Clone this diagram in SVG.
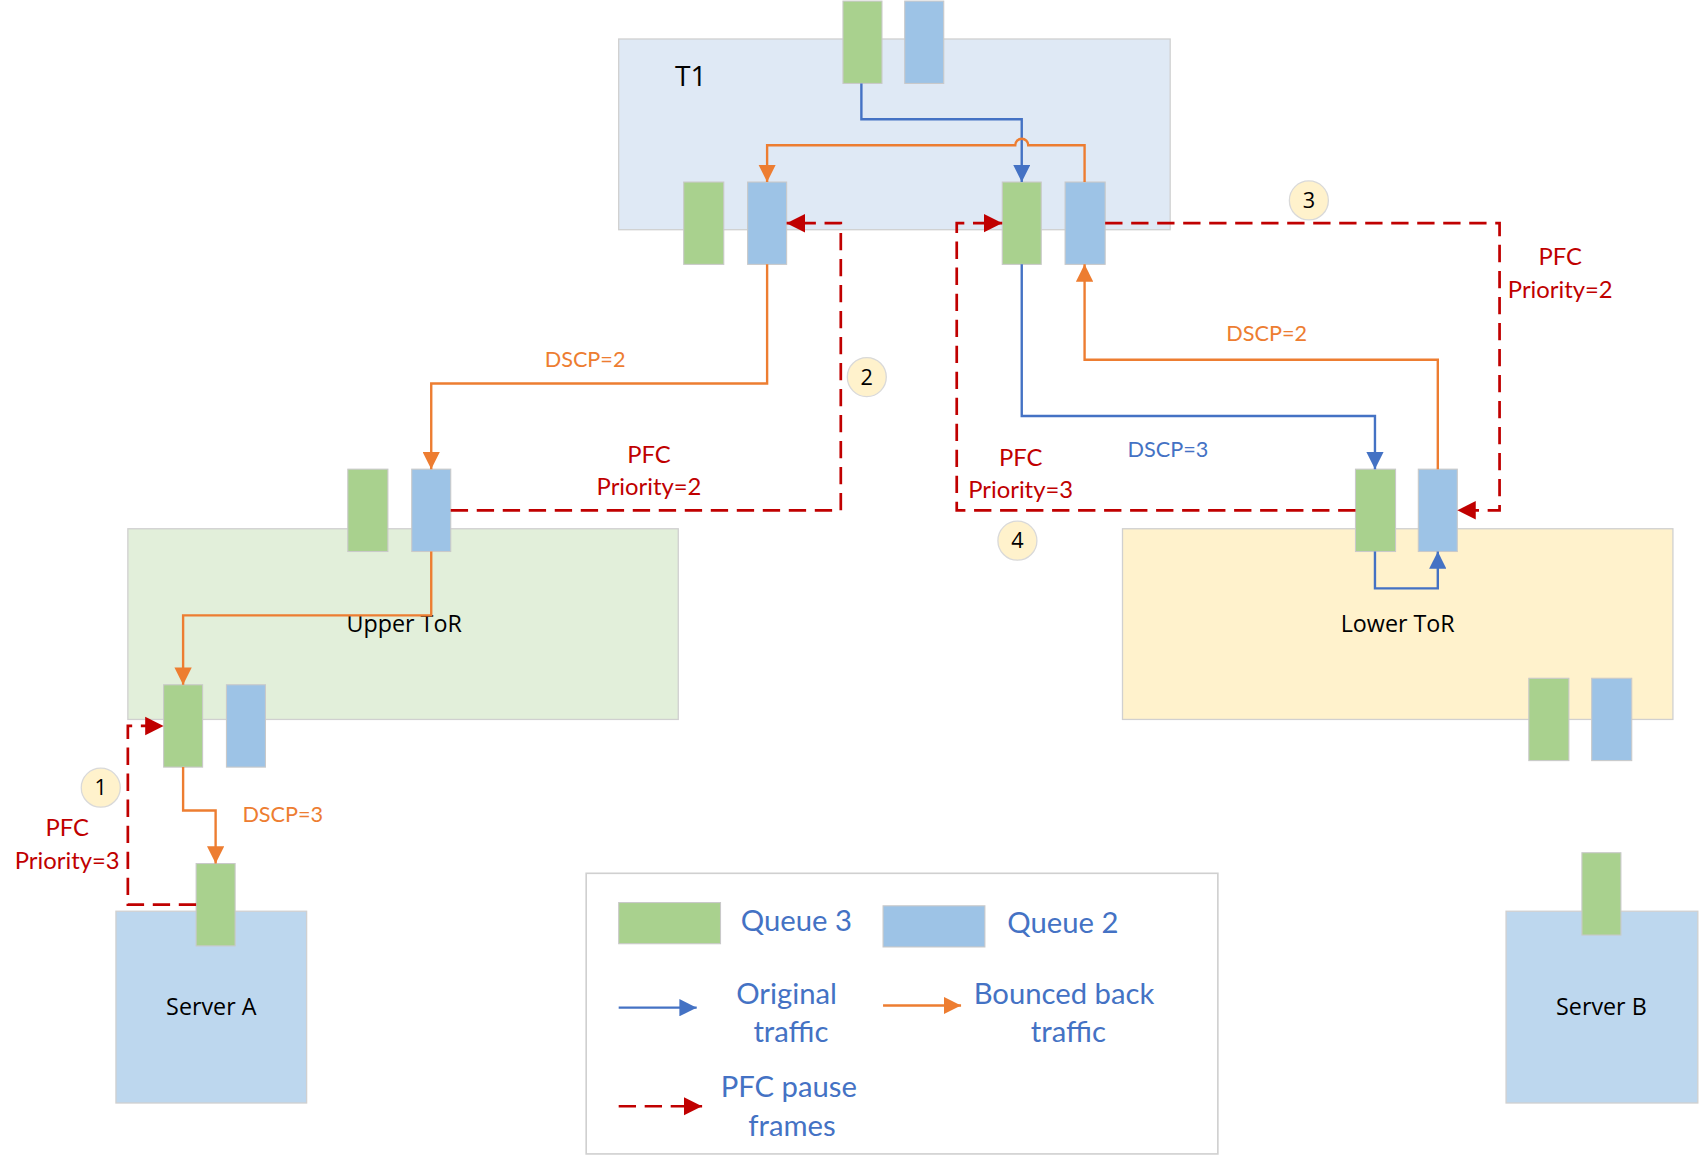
<svg xmlns="http://www.w3.org/2000/svg" width="1699" height="1161" viewBox="0 0 1699 1161">
<style>
.box{stroke:#d0d0d0;stroke-width:1.2}
.q3{fill:#a9d18e;stroke:#c9c9c9;stroke-width:1}
.q2{fill:#9dc3e6;stroke:#c9c9c9;stroke-width:1}
.nl{font-family:"Open Sans","Noto Sans",sans-serif;font-size:21.5px;fill:#000;text-anchor:middle}
.lbl{font-family:Lato,"Liberation Sans",sans-serif;font-size:20px;text-anchor:middle}
.big{font-size:22px}
.red{fill:#c00000}
.org{fill:#ed7d31}
.blu{fill:#4472c4}
.leg{font-family:Lato,"Liberation Sans",sans-serif;font-size:27px;fill:#4472c4;text-anchor:middle}
.cl{fill:#fff2cc;stroke:#d9d9d9;stroke-width:1.2}
.cn{font-family:"Open Sans","Noto Sans",sans-serif;font-size:20px;fill:#000;text-anchor:middle}
.lb{fill:none;stroke:#4472c4;stroke-width:2.2;marker-end:url(#ab)}
.lo{fill:none;stroke:#ed7d31;stroke-width:2.2;marker-end:url(#ao)}
.lr{fill:none;stroke:#c00000;stroke-width:2.5;stroke-dasharray:16 8;marker-end:url(#ar)}
</style>
<defs>
<marker id="ab" viewBox="0 0 10 10" refX="10" refY="5" markerUnits="userSpaceOnUse" markerWidth="16" markerHeight="16" orient="auto"><path d="M0,0L10,5L0,10z" fill="#4472c4"/></marker>
<marker id="ao" viewBox="0 0 10 10" refX="10" refY="5" markerUnits="userSpaceOnUse" markerWidth="16" markerHeight="16" orient="auto"><path d="M0,0L10,5L0,10z" fill="#ed7d31"/></marker>
<marker id="ar" viewBox="0 0 10 10" refX="10" refY="5" markerUnits="userSpaceOnUse" markerWidth="17" markerHeight="19" orient="auto"><path d="M0,0L10,5L0,10z" fill="#c00000"/></marker>
</defs>
<rect width="1699" height="1161" fill="#fff"/>
<g transform="scale(1.0835)">
<g id="t1">
<rect class="box" x="571" y="36" width="509" height="176" fill="#dfe9f5"/>
<text x="623" y="79" font-family="'Open Sans','Noto Sans',sans-serif" font-size="26" fill="#000">T1</text>
<rect class="q3" x="778" y="1" width="36" height="76"/>
<rect class="q2" x="835" y="1" width="36" height="76"/>
<rect class="q3" x="631" y="168" width="37" height="76"/>
<rect class="q2" x="690" y="168" width="36" height="76"/>
<rect class="q3" x="925" y="168" width="36" height="76"/>
<rect class="q2" x="983" y="168" width="37" height="76"/>
</g>
<g id="upper-tor">
<rect class="box" x="118" y="488" width="508" height="176" fill="#e2efda"/>
<text class="nl" x="373" y="583">Upper ToR</text>
<rect class="q3" x="321" y="433" width="37" height="76"/>
<rect class="q2" x="380" y="433" width="36" height="76"/>
<rect class="q3" x="151" y="632" width="36" height="76"/>
<rect class="q2" x="209" y="632" width="36" height="76"/>
</g>
<g id="lower-tor">
<rect class="box" x="1036" y="488" width="508" height="176" fill="#fff2cc"/>
<text class="nl" x="1290" y="583">Lower ToR</text>
<rect class="q3" x="1251" y="433" width="37" height="76"/>
<rect class="q2" x="1309" y="433" width="36" height="76"/>
<rect class="q3" x="1411" y="626" width="37" height="76"/>
<rect class="q2" x="1469" y="626" width="37" height="76"/>
</g>
<g id="server-a">
<rect class="box" x="107" y="841" width="176" height="177" fill="#bdd7ee"/>
<text class="nl" x="195" y="937">Server A</text>
<rect class="q3" x="181" y="797" width="36" height="76"/>
</g>
<g id="server-b">
<rect class="box" x="1390" y="841" width="177" height="177" fill="#bdd7ee"/>
<text class="nl" x="1478" y="937">Server B</text>
<rect class="q3" x="1460" y="787" width="36" height="76"/>
</g>
<g id="connectors">
<path class="lb" d="M795,77V110H943V168"/>
<path class="lo" d="M1001,168V134H949A6,6 0 0 0 937,134H708V168"/>
<path class="lr" d="M416,471H776V206H726"/>
<path class="lo" d="M708,244V354H398V433"/>
<path class="lo" d="M398,509V568H169V632"/>
<path class="lo" d="M169,708V748H199V797"/>
<path class="lr" d="M181,835H118V670H151"/>
<path class="lr" d="M1020,206H1384V471H1345"/>
<path class="lr" d="M1251,471H883V206H925"/>
<path class="lb" d="M943,244V384H1269V433"/>
<path class="lo" d="M1327,433V332H1001V244"/>
<path class="lb" d="M1269,509V543H1327V509"/>
</g>
<g id="labels">
<text class="lbl org" x="540" y="339">DSCP=2</text>
<text class="lbl big red" x="599" y="427">PFC</text>
<text class="lbl big red" x="599" y="457">Priority=2</text>
<text class="lbl org" x="261" y="759">DSCP=3</text>
<text class="lbl big red" x="62" y="772">PFC</text>
<text class="lbl big red" x="62" y="802">Priority=3</text>
<text class="lbl big red" x="1440" y="245">PFC</text>
<text class="lbl big red" x="1440" y="275">Priority=2</text>
<text class="lbl org" x="1169" y="315">DSCP=2</text>
<text class="lbl blu" x="1078" y="422">DSCP=3</text>
<text class="lbl big red" x="942" y="430">PFC</text>
<text class="lbl big red" x="942" y="460">Priority=3</text>
</g>
<g id="step-1"><circle class="cl" cx="93" cy="727" r="18"/><text class="cn" x="93" y="734">1</text></g>
<g id="step-2"><circle class="cl" cx="800" cy="348" r="18"/><text class="cn" x="800" y="355">2</text></g>
<g id="step-3"><circle class="cl" cx="1208" cy="185" r="18"/><text class="cn" x="1208" y="192">3</text></g>
<g id="step-4"><circle class="cl" cx="939" cy="499" r="18"/><text class="cn" x="939" y="506">4</text></g>
<g id="legend">
<rect x="541" y="806" width="583" height="259" fill="#fff" stroke="#d0d0d0" stroke-width="1.5"/>
<rect class="q3" x="571" y="833" width="94" height="38"/>
<text class="leg" x="735" y="859">Queue 3</text>
<rect class="q2" x="815" y="836" width="94" height="38"/>
<text class="leg" x="981" y="861">Queue 2</text>
<path class="lb" d="M571,930H643"/>
<text class="leg" x="726" y="927">Original</text>
<text class="leg" x="730" y="962">traffic</text>
<path class="lo" d="M815,928H887"/>
<text class="leg" x="982" y="927">Bounced back</text>
<text class="leg" x="986" y="962">traffic</text>
<path class="lr" d="M571,1021H648"/>
<text class="leg" x="728" y="1012">PFC pause</text>
<text class="leg" x="731" y="1048">frames</text>
</g>
</g>
</svg>
